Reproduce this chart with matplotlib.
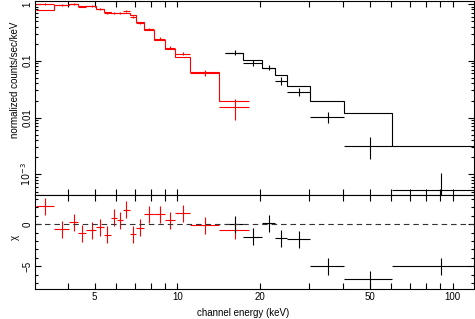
import numpy as np
import matplotlib
matplotlib.use('Agg')
import matplotlib.pyplot as plt
from matplotlib.ticker import FixedLocator, NullFormatter

plt.rcParams['font.family'] = ['Liberation Sans', 'DejaVu Sans']

# red spectrum (low energy instrument)
red_edges = [3.06, 3.55, 4.04, 4.37, 4.67, 5.08, 5.40, 5.74, 6.04, 6.36, 6.70,
             7.08, 7.59, 8.20, 9.04, 9.83, 11.15, 14.13, 18.16]
red_rate = [1.0, 0.95, 0.99, 0.90, 0.91, 0.81, 0.69, 0.70, 0.70, 0.75, 0.60,
            0.47, 0.36, 0.245, 0.17, 0.134, 0.0615, 0.0151]
red_err = [0.04, 0.035, 0.035, 0.03, 0.03, 0.03, 0.025, 0.025, 0.025, 0.03, 0.025,
           0.02, 0.015, 0.012, 0.01, 0.008, 0.007, 0.006]
red_model = [0.769, 0.968, 0.98, 0.93, 0.93, 0.824, 0.718, 0.689, 0.689, 0.70, 0.628,
             0.479, 0.343, 0.229, 0.164, 0.117, 0.0622, 0.0195]
red_chi = [2.09, -0.59, 0.2, -1.1, -0.75, -0.35, -1.26, 0.75, 0.47, 1.69, -1.18,
           -0.43, 1.14, 1.18, 0.47, 1.26, -0.12, -0.71]

# black spectrum (high energy instrument)
blk_edges = [14.94, 17.34, 20.32, 22.58, 25.06, 30.27, 40.25, 60.36, 121.2]
blk_rate = [0.139, 0.0915, 0.076, 0.0442, 0.0288, 0.0102, 0.00316, 0.00053]
blk_err_lo = [0.015, 0.009, 0.007, 0.006, 0.0045, 0.0022, 0.0013, 0.0005]
blk_err_hi = [0.016, 0.01, 0.008, 0.007, 0.005, 0.0025, 0.0014, 0.00053]
blk_model = [0.139, 0.105, 0.0739, 0.0573, 0.0361, 0.020, 0.012, 0.0032]
blk_chi = [0.0, -1.5, 0.08, -1.7, -1.8, -4.96, -6.5, -4.96]

def bins(edges):
    e = np.array(edges)
    c = (e[:-1] + e[1:]) / 2
    return c, [c - e[:-1], e[1:] - c]

rc, rxe = bins(red_edges)
bc, bxe = bins(blk_edges)

fig = plt.figure(figsize=(4.75, 3.19), dpi=100)
ax = fig.add_axes([0.0747, 0.3878, 0.9238, 0.6100])
ax2 = fig.add_axes([0.0747, 0.0931, 0.9238, 0.2947])

lw = 0.8
ax.errorbar(rc, red_rate, xerr=rxe, yerr=red_err, fmt='none', ecolor='red', elinewidth=lw)
ax.stairs(red_model, red_edges, baseline=None, color='red', lw=lw)
ax.errorbar(bc, blk_rate, xerr=bxe, yerr=[blk_err_lo, blk_err_hi], fmt='none', ecolor='black', elinewidth=lw)
ax.stairs(blk_model, blk_edges, baseline=None, color='black', lw=lw)
ax.set_xscale('log')
ax.set_yscale('log')
ax.set_xlim(3.05, 120)
ax.set_ylim(4.3e-4, 1.14)

ax2.errorbar(rc, red_chi, xerr=rxe, yerr=1, fmt='none', ecolor='red', elinewidth=lw)
ax2.errorbar(bc, blk_chi, xerr=bxe, yerr=1, fmt='none', ecolor='black', elinewidth=lw)
ax2.axhline(0, color='#333333', lw=lw, dashes=(5, 3.5))
ax2.set_xscale('log')
ax2.set_xlim(3.05, 120)
ax2.set_ylim(-7.7, 3.4)

xmaj = [5, 10, 20, 50, 100]
xmin = [3, 4, 6, 7, 8, 9, 30, 40, 60, 70, 80, 90]
for a in (ax, ax2):
    a.xaxis.set_major_locator(FixedLocator(xmaj))
    a.xaxis.set_minor_locator(FixedLocator(xmin))
    a.xaxis.set_minor_formatter(NullFormatter())
    a.tick_params(which='both', direction='in', top=True, right=True, width=0.8,
                  labelsize=7, pad=2)
    a.tick_params(which='major', length=4.5)
    a.tick_params(axis='x', which='minor', length=4.5)
    a.tick_params(axis='y', which='minor', length=2.5)
    for s in a.spines.values():
        s.set_linewidth(0.8)

ax.xaxis.set_major_formatter(NullFormatter())
ax2.set_xticklabels(['5', '10', '20', '50', '100'])

ax.yaxis.set_major_locator(FixedLocator([1e-3, 0.01, 0.1, 1]))
ax.yaxis.set_minor_locator(FixedLocator([m * 10.0 ** d for d in range(-4, 1) for m in range(2, 10)]))
ax.yaxis.set_minor_formatter(NullFormatter())
ax.set_yticklabels([r'$10^{-3}$', '0.01', '0.1', '1'], rotation=90, va='center')

ax2.yaxis.set_major_locator(FixedLocator([-5, 0]))
ax2.yaxis.set_minor_locator(FixedLocator(list(range(-7, 4))))
ax2.set_yticklabels(['\u22125', '0'], rotation=90, va='center')

fig.text(0.032, 0.75, 'normalized counts/sec/keV', rotation=90, ha='center', va='center', fontsize=7)
fig.text(0.032, 0.255, '\u03c7', rotation=90, ha='center', va='center', fontsize=7)
fig.text(243 / 475, 1 - 313 / 319, 'channel energy (keV)', ha='center', va='center', fontsize=7)

fig.savefig('out.png', dpi=100)
